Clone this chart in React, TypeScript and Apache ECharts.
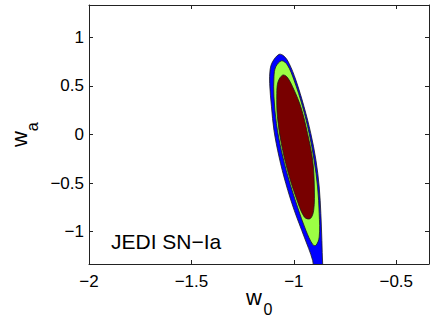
import React, { useEffect, useRef } from "react";
import * as echarts from "echarts";

// Axis ranges and ticks
const xRange = [-2, -0.34];
const yRange = [-1.333, 1.333];
const xTicks = [-2, -1.5, -1, -0.5];
const yTicks = [-1, -0.5, 0, 0.5, 1];

// Confidence contours (w0, wa)
const outerContour: number[][] = [
  [-1.072, 0.825], [-1.104, 0.748], [-1.116, 0.663], [-1.118, 0.526], [-1.109, 0.285],
  [-1.097, 0.044], [-1.072, -0.231], [-1.039, -0.505], [-0.998, -0.78], [-0.949, -1.056],
  [-0.908, -1.296], [-0.897, -1.45], [-0.853, -1.45], [-0.859, -1.338], [-0.863, -1.09],
  [-0.868, -0.814], [-0.876, -0.54], [-0.892, -0.265], [-0.917, 0.01], [-0.95, 0.285],
  [-0.99, 0.56], [-1.023, 0.732], [-1.048, 0.807],
];
const middleContour: number[][] = [
  [-1.059, 0.759], [-1.088, 0.697], [-1.097, 0.594], [-1.097, 0.388], [-1.085, 0.113],
  [-1.061, -0.162], [-1.028, -0.437], [-0.982, -0.746], [-0.941, -0.987], [-0.908, -1.131],
  [-0.892, -1.141], [-0.876, -1.056], [-0.876, -0.814], [-0.884, -0.54], [-0.901, -0.265],
  [-0.925, 0.01], [-0.957, 0.285], [-0.999, 0.56], [-1.031, 0.714],
];
const innerContour: number[][] = [
  [-1.055, 0.611], [-1.077, 0.542], [-1.083, 0.423], [-1.08, 0.181], [-1.061, -0.093],
  [-1.031, -0.368], [-0.99, -0.643], [-0.949, -0.849], [-0.92, -0.866], [-0.903, -0.78],
  [-0.9, -0.54], [-0.908, -0.265], [-0.933, 0.01], [-0.966, 0.285], [-1.006, 0.491],
  [-1.034, 0.594],
];

const contourColors = ["#0000ff", "#9cff44", "#780000"];
const label = "JEDI SN\u2212Ia";

const fmt = (v: number) => String(v).replace("-", "\u2212");

export default function App() {
  const ref = useRef<HTMLDivElement>(null);
  useEffect(() => {
    if (!ref.current) return;
    const chart = echarts.init(ref.current, undefined, { renderer: "svg" });
    const font = "'Liberation Sans', Arial, Helvetica, sans-serif";
    const contourSeries = (pts: number[][], color: string, z: number) => ({
      type: "custom",
      coordinateSystem: "cartesian2d",
      clip: true,
      z,
      data: pts,
      renderItem: (params: any, api: any) => {
        if (params.dataIndex !== 0) return null;
        return {
          type: "polygon",
          shape: { points: pts.map((p) => api.coord(p)), smooth: 0.35 },
          style: { fill: color, stroke: "#1a1a1a", lineWidth: 0.8 },
        };
      },
    });
    const axisCommon = {
      type: "value",
      axisLine: { show: true, onZero: false, lineStyle: { color: "#222", width: 1 } },
      splitLine: { show: false },
    };
    chart.setOption({
      animation: false,
      grid: { left: 89, right: 7, top: 5, bottom: 61, containLabel: false },
      xAxis: [
        {
          ...axisCommon,
          position: "bottom",
          min: xRange[0],
          max: xRange[1],
          axisTick: { show: true, inside: true, length: 4, customValues: xTicks, lineStyle: { color: "#222" } },
          axisLabel: {
            show: true, customValues: xTicks, formatter: fmt, margin: 9,
            fontSize: 17, fontFamily: font, color: "#000",
          },
        },
        {
          ...axisCommon,
          position: "top",
          min: xRange[0],
          max: xRange[1],
          axisTick: { show: true, inside: true, length: 4, customValues: xTicks, lineStyle: { color: "#222" } },
          axisLabel: { show: false },
        },
      ],
      yAxis: [
        {
          ...axisCommon,
          position: "left",
          min: yRange[0],
          max: yRange[1],
          axisTick: { show: true, inside: true, length: 4, customValues: yTicks, lineStyle: { color: "#222" } },
          axisLabel: {
            show: true, customValues: yTicks, formatter: fmt, margin: 5,
            fontSize: 17, fontFamily: font, color: "#000",
          },
        },
        {
          ...axisCommon,
          position: "right",
          min: yRange[0],
          max: yRange[1],
          axisTick: { show: true, inside: true, length: 4, customValues: yTicks, lineStyle: { color: "#222" } },
          axisLabel: { show: false },
        },
      ],
      series: [
        contourSeries(outerContour, contourColors[0], 1),
        contourSeries(middleContour, contourColors[1], 2),
        contourSeries(innerContour, contourColors[2], 3),
      ],
      graphic: [
        {
          type: "text", x: 111, y: 241, z: 10,
          style: { text: label, font: `21px ${font}`, fill: "#000", align: "left", verticalAlign: "middle" },
        },
        {
          type: "text", x: 254, y: 297, z: 10,
          style: { text: "w", font: `22px ${font}`, fill: "#000", align: "center", verticalAlign: "middle" },
        },
        {
          type: "text", x: 268, y: 309.5, z: 10,
          style: { text: "0", font: `16px ${font}`, fill: "#000", align: "center", verticalAlign: "middle" },
        },
        {
          type: "text", x: 19, y: 139, rotation: Math.PI / 2, z: 10,
          style: { text: "w", font: `22px ${font}`, fill: "#000", align: "center", verticalAlign: "middle" },
        },
        {
          type: "text", x: 32.8, y: 126.7, rotation: Math.PI / 2, z: 10,
          style: { text: "a", font: `16px ${font}`, fill: "#000", align: "center", verticalAlign: "middle" },
        },
      ],
    });
    return () => chart.dispose();
  }, []);
  return (
    <div
      ref={ref}
      style={{ position: "fixed", left: 0, top: 0, width: 436, height: 325, background: "#fff" }}
    />
  );
}
